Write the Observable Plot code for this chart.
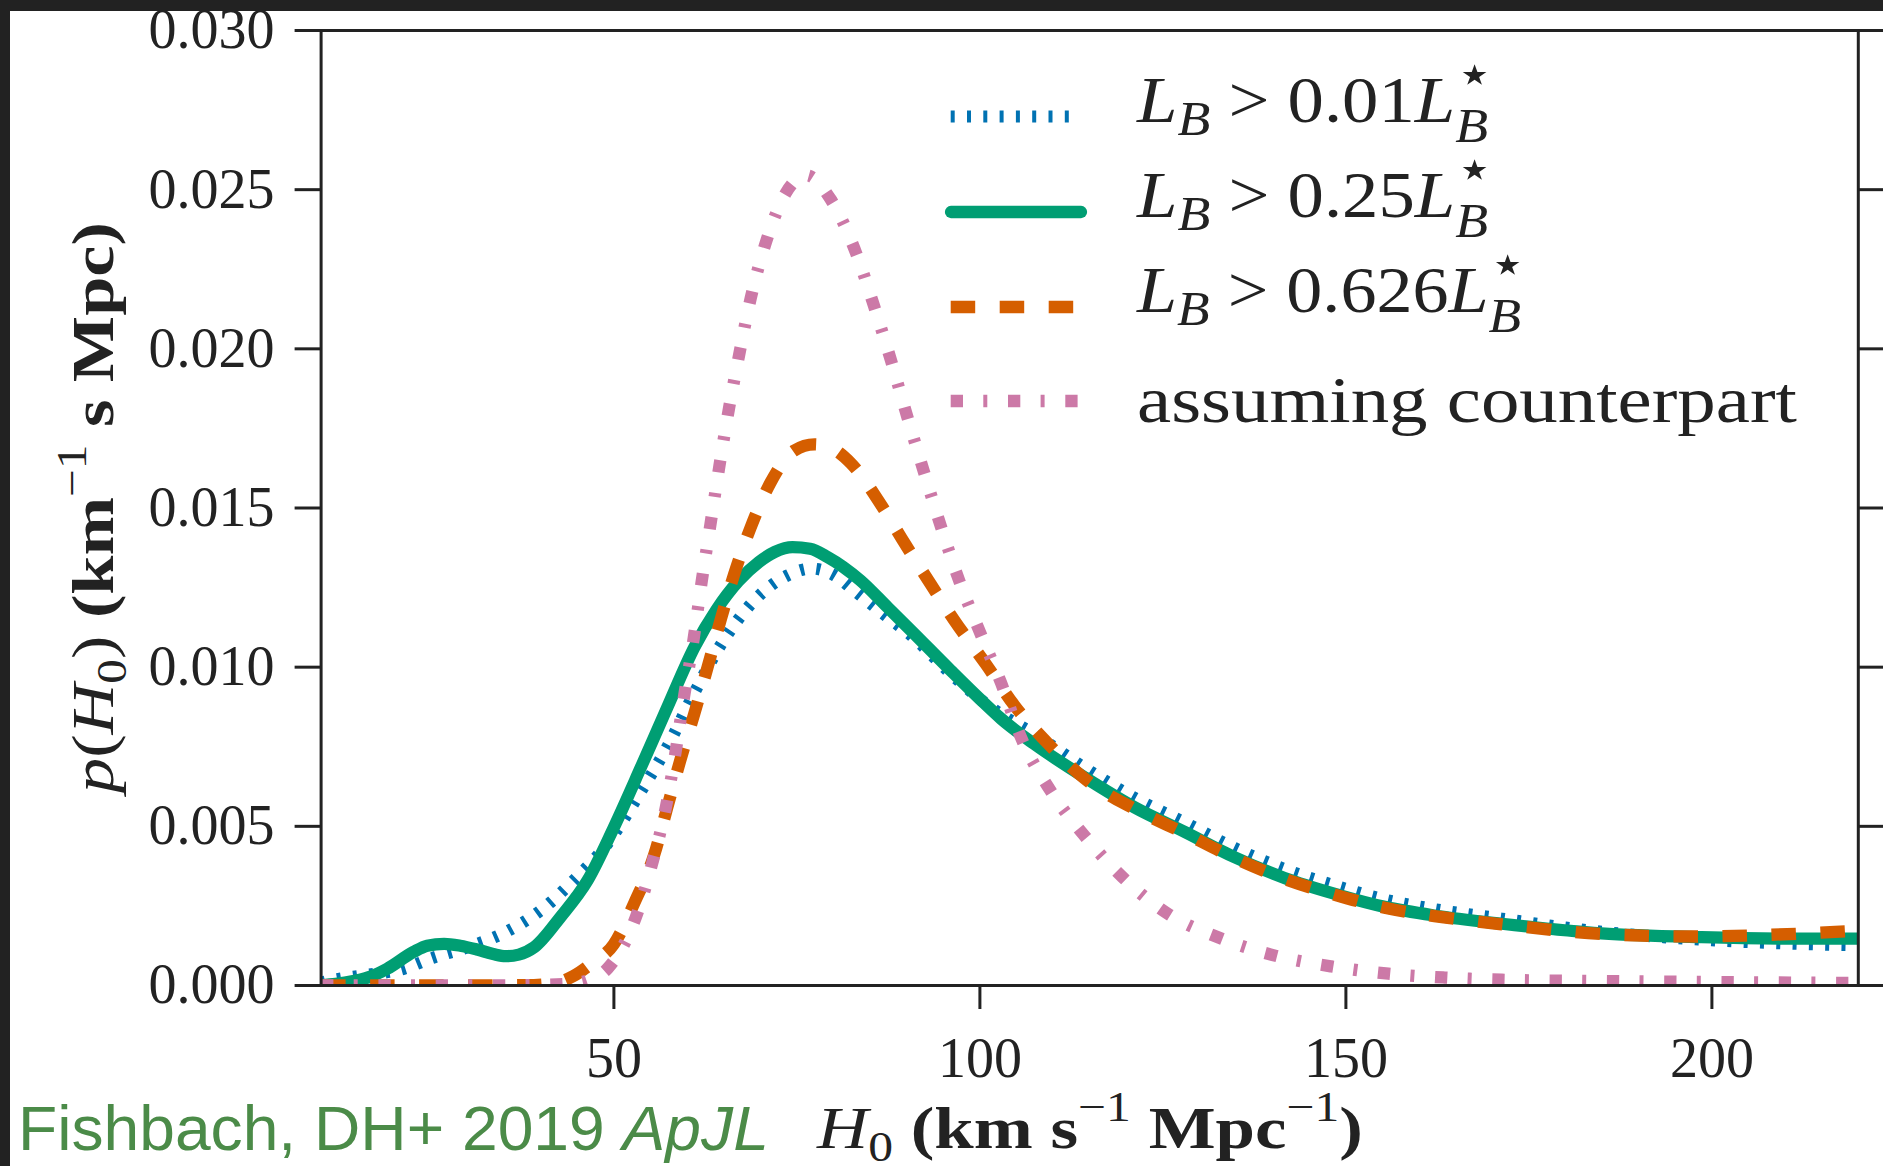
<!DOCTYPE html>
<html>
<head>
<meta charset="utf-8">
<script src="https://cdn.jsdelivr.net/npm/d3@7"></script>
<script src="https://cdn.jsdelivr.net/npm/@observablehq/plot@0.6"></script>
<style>
  html, body { margin: 0; padding: 0; background: #fff; overflow: hidden; }
  #page { position: relative; width: 1883px; height: 1166px; overflow: hidden; background: #fff; }
  #chart { position: absolute; left: 0; top: 0; }
  .edge { position: absolute; background: #222; }
</style>
</head>
<body>
<div id="page">
  <div id="chart"></div>
  <div class="edge" style="left:0;top:0;width:1883px;height:11px"></div>
  <div class="edge" style="left:0;top:0;width:10px;height:1166px"></div>
</div>
<script>
// Posterior on H0 for galaxy-catalog luminosity cuts (km/s/Mpc vs density)
const h0Faint = [10, 12.2, 16, 20.9, 25.4, 30, 35.4, 40, 44.5, 49.1, 53.7, 57.3, 61, 64.6, 69.2, 73.7, 77, 80, 82.8, 87.4, 90.6, 96, 100, 103, 107.4, 114.3, 121.1, 128, 134.8, 141.6, 148.5, 155.3, 162.1, 171.3, 180, 190, 200, 210, 220];
const pFaint = [0.0001, 0.0002, 0.00033, 0.0005, 0.00088, 0.0012, 0.0017, 0.00236, 0.0033, 0.00445, 0.0061, 0.0075, 0.0092, 0.0107, 0.0121, 0.01288, 0.0131, 0.0129, 0.01241, 0.01157, 0.0110, 0.0098, 0.0090, 0.0085, 0.0079, 0.00684, 0.0059, 0.00512, 0.00432, 0.00366, 0.00314, 0.0027, 0.0024, 0.0021, 0.00182, 0.00158, 0.00142, 0.00132, 0.00126];

const h0Mid = [10, 12, 14.4, 17, 19, 22.6, 24.5, 26.8, 29, 31.3, 33.5, 35.2, 37, 39.1, 42.7, 46.4, 50, 53.7, 57.3, 61, 64, 67, 69.8, 72, 74.4, 76.8, 79.2, 83.7, 87.4, 90.6, 96, 100, 102.9, 107.4, 114.3, 121.1, 128, 134.8, 141.6, 148.5, 155.3, 162.1, 171.3, 184.9, 198.6, 212.3, 220];
const pMid = [0.00001, 0.00005, 0.00014, 0.0003, 0.00052, 0.00105, 0.00125, 0.00131, 0.00125, 0.00113, 0.00099, 0.00092, 0.00097, 0.0012, 0.00215, 0.0033, 0.00497, 0.00686, 0.00874, 0.01063, 0.0118, 0.0127, 0.0133, 0.01362, 0.01377, 0.01372, 0.01346, 0.01272, 0.01188, 0.01115, 0.0099, 0.0090, 0.00838, 0.00759, 0.00654, 0.0056, 0.00482, 0.00403, 0.00338, 0.00288, 0.00247, 0.0022, 0.00194, 0.00164, 0.00152, 0.00147, 0.00147];

const h0Bright = [10, 20, 30, 38, 42, 44.5, 47, 50, 52.8, 55.5, 57.3, 59.1, 61, 62.8, 64.6, 66.4, 68.7, 71.4, 74.6, 77.4, 80, 82.4, 86.5, 89.7, 93.3, 96.5, 100.8, 104.7, 109.3, 114.3, 121.1, 128, 134.8, 141.6, 148.5, 155.3, 162.1, 171.3, 185, 198, 205, 212, 220];
const pBright = [0, 0, 0, 0.00001, 0.00008, 0.0003, 0.0007, 0.0013, 0.0026, 0.0041, 0.0056, 0.0071, 0.00855, 0.0100, 0.0115, 0.0129, 0.0144, 0.0158, 0.0168, 0.0170, 0.01685, 0.0164, 0.0151, 0.0139, 0.0126, 0.01147, 0.0101, 0.0088, 0.0076, 0.0065, 0.00555, 0.00478, 0.0040, 0.00335, 0.00285, 0.00244, 0.00218, 0.00192, 0.00162, 0.00154, 0.00157, 0.00163, 0.00172];

const h0Counterpart = [10, 20, 30, 40, 44, 46.4, 49.2, 51.4, 53, 55.3, 57.1, 58.4, 59.6, 60.9, 62, 63.2, 64.4, 65.7, 67.1, 68.7, 70.7, 73.5, 76.3, 79.6, 83.1, 85.6, 87.9, 90.1, 92.4, 94.7, 97.2, 100, 102.9, 105.6, 109.7, 114.3, 119.5, 125.7, 132.7, 140.3, 148, 155.8, 163.5, 171.3, 185, 200, 220];
const pCounterpart = [0, 0, 0, 0.00002, 0.00006, 0.00016, 0.00055, 0.0013, 0.00215, 0.0039, 0.0056, 0.0073, 0.0091, 0.0109, 0.0127, 0.0145, 0.0163, 0.0181, 0.0198, 0.0216, 0.0233, 0.0249, 0.02545, 0.0247, 0.0230, 0.0213, 0.0196, 0.01785, 0.0161, 0.0144, 0.0127, 0.0111, 0.0095, 0.0078, 0.0061, 0.0047, 0.0034, 0.00225, 0.0015, 0.00094, 0.0006, 0.00037, 0.00025, 0.00018, 0.00014, 0.00011, 0.00008];

const xTicks = [50, 100, 150, 200];
const yTicks = [0, 0.005, 0.010, 0.015, 0.020, 0.025, 0.030];

// Line style for each series: colour, width and dash pattern
const series = [
  {key: "faint", h0: h0Faint, p: pFaint, stroke: "#0072B2", width: 12, dash: "4 12.3", cap: "butt"},
  {key: "mid", h0: h0Mid, p: pMid, stroke: "#009E73", width: 12.3, dash: null, cap: "round"},
  {key: "bright", h0: h0Bright, p: pBright, stroke: "#D55E00", width: 12.3, dash: "24.5 24.5", cap: "butt"},
  {key: "counterpart", h0: h0Counterpart, p: pCounterpart, stroke: "#CC79A7", width: 12.3, dash: "12.3 20.3 4 20.7", cap: "butt"}
];

const lineMarks = series.map(s =>
  Plot.line(s.h0.map((h, i) => ({h0: h, p: s.p[i]})), {
    x: "h0", y: "p", curve: "monotone-x", clip: true,
    stroke: s.stroke, strokeWidth: s.width,
    strokeDasharray: s.dash ?? undefined, strokeLinecap: s.cap, strokeLinejoin: "round"
  })
);

const chart = Plot.plot({
  width: 1883, height: 1166,
  marginLeft: 320.6, marginRight: 25.2, marginTop: 30, marginBottom: 181,
  style: {fontFamily: "'Liberation Serif', serif", fontSize: "56px", color: "#222", background: "transparent"},
  x: {domain: [10, 220]},
  y: {domain: [0, 0.03]},
  marks: [
    ...lineMarks,
    Plot.frame({stroke: "#222", strokeWidth: 3}),
    Plot.axisX({ticks: xTicks, tickSize: 24, tickPadding: 28, strokeWidth: 3, label: null, tickFormat: d => String(d)}),
    Plot.axisY({ticks: yTicks, tickSize: 26, tickPadding: 20.6, strokeWidth: 3, label: null, tickFormat: d3.format(".3f")}),
    Plot.axisY({anchor: "right", ticks: yTicks, tickSize: 26, strokeWidth: 3, label: null, tickFormat: () => ""})
  ]
});
document.getElementById("chart").appendChild(chart);

const svg = d3.select(chart);

// Legend swatches
const swatchY = [116.5, 212, 307, 401];
const swatchX = [[950.7, 1069], [951, 1081], [950.7, 1073.7], [950.7, 1077.7]];
series.forEach((s, i) => {
  svg.append("line")
    .attr("x1", swatchX[i][0]).attr("x2", swatchX[i][1])
    .attr("y1", swatchY[i]).attr("y2", swatchY[i])
    .attr("stroke", s.stroke).attr("stroke-width", s.width)
    .attr("stroke-dasharray", s.dash)
    .attr("stroke-linecap", s.cap);
});

// Rich text: a run of pieces with italic/bold, size and baseline shifts,
// starting at (x, y) and stretched horizontally to the given width.
function richText(parts, {x, y, size, family, fill = "#222", width, rotate = false}) {
  const g = svg.append("g")
    .attr("transform", rotate ? `translate(${x},${y}) rotate(-90)` : `translate(${x},${y})`);
  const t = g.append("text")
    .attr("text-anchor", "start")
    .attr("font-family", family).attr("font-size", size).attr("fill", fill);
  let cur = 0, prev = null;
  for (const p of parts) {
    const ts = t.append("tspan").text(p.t);
    if (p.i) ts.attr("font-style", "italic");
    if (p.b) ts.attr("font-weight", "bold");
    if (p.s) ts.attr("font-size", size * p.s);
    if (p.f) ts.attr("font-family", p.f);
    const d = (p.dy || 0) * size;
    ts.attr("dy", d - cur);
    cur = d;
    if (p.back && prev) ts.attr("dx", -prev.getComputedTextLength());
    if (p.dx) ts.attr("dx", p.dx * size);
    prev = ts.node();
  }
  if (width) {
    const box = t.node().getBBox();
    t.attr("transform", `scale(${width / (box.x + box.width)},1)`);
  }
  return t;
}

const serif = "'Liberation Serif', serif";
const legendSize = 66;
const star = {t: "⋆", s: 0.85, dy: -0.44, f: "'DejaVu Sans', sans-serif"};
const legendRows = [
  {parts: [{t: "L", i: 1}, {t: "B", i: 1, s: 0.74, dy: 0.2}, {t: " > 0.01"}, {t: "L", i: 1},
           star, {t: "B", i: 1, s: 0.74, dy: 0.3, back: 1}], y: 122, width: 357},
  {parts: [{t: "L", i: 1}, {t: "B", i: 1, s: 0.74, dy: 0.2}, {t: " > 0.25"}, {t: "L", i: 1},
           star, {t: "B", i: 1, s: 0.74, dy: 0.3, back: 1}], y: 217, width: 357},
  {parts: [{t: "L", i: 1}, {t: "B", i: 1, s: 0.74, dy: 0.2}, {t: " > 0.626"}, {t: "L", i: 1},
           star, {t: "B", i: 1, s: 0.74, dy: 0.3, back: 1}], y: 312, width: 390},
  {parts: [{t: "assuming counterpart"}], y: 422, width: 660}
];
legendRows.forEach(r => richText(r.parts, {x: 1137, y: r.y, size: legendSize, family: serif, width: r.width}));

// Axis titles
richText([
  {t: "H", i: 1}, {t: "0", s: 0.7, dy: 0.22}, {t: " (km s", b: 1}, {t: "−1", s: 0.7, dy: -0.45},
  {t: " Mpc", b: 1}, {t: "−1", s: 0.7, dy: -0.45}, {t: ")", b: 1}
], {x: 817, y: 1148, size: 60, family: serif, width: 546});

richText([
  {t: "p", i: 1}, {t: "("}, {t: "H", i: 1}, {t: "0", s: 0.7, dy: 0.22}, {t: ")"},
  {t: " (km", b: 1}, {t: "−1", s: 0.7, dy: -0.45}, {t: " s Mpc)", b: 1}
], {x: 113, y: 793, size: 60, family: serif, width: 571, rotate: true});

// Citation
richText([
  {t: "Fishbach, DH+ 2019 "}, {t: "ApJL", i: 1}
], {x: 18, y: 1150, size: 63, family: "'Liberation Sans', sans-serif", fill: "#4b8b48", width: 751});
</script>
</body>
</html>
